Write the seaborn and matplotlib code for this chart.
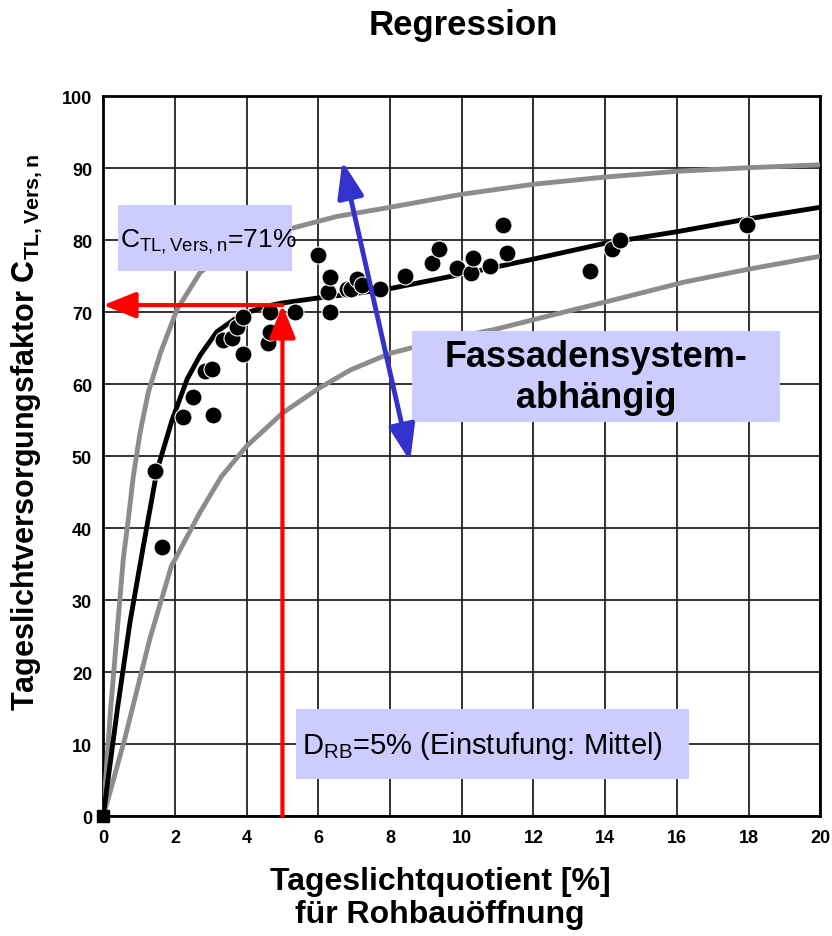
import numpy as np
import pandas as pd
import matplotlib
matplotlib.use("Agg")
import matplotlib.pyplot as plt
from matplotlib.patches import Rectangle
import seaborn as sns

# ---- data ----
x_pts = [1.45, 1.65, 2.23, 2.5, 2.85, 3.04, 3.07, 3.35, 3.6, 3.73, 3.9, 3.9,
         4.6, 4.66, 4.66, 5.36, 6.0, 6.28, 6.33, 6.33, 6.8, 6.9, 7.08, 7.22,
         7.73, 8.42, 9.18, 9.37, 9.87, 10.26, 10.32, 10.8, 11.16, 11.27,
         13.58, 14.2, 14.42, 17.96]
y_pts = [47.9, 37.4, 55.4, 58.3, 61.8, 62.1, 55.8, 66.2, 66.5, 68.0, 69.3, 64.2,
         65.8, 67.2, 70.1, 70.1, 77.9, 72.8, 74.9, 70.0, 73.2, 73.2, 74.6, 73.8,
         73.3, 75.1, 76.8, 78.8, 76.1, 75.5, 77.5, 76.5, 82.1, 78.3,
         75.8, 78.75, 80.0, 82.2]

# regression curve
x_fit = [0, 0.4, 0.75, 1.12, 1.5, 1.92, 2.34, 2.7, 3.17, 3.65, 4, 4.5,
         5, 6, 7, 8, 10, 12, 14, 16, 18, 20]
y_fit = [0, 15, 27, 37.5, 48, 55, 60.7, 64, 67.3, 69, 69.9, 70.8,
         71.3, 72, 72.6, 73.3, 75.3, 77.4, 79.6, 81.2, 83, 84.6]

# upper / lower envelope
x_up = [0, 0.2, 0.56, 0.7, 0.84, 1.03, 1.26, 1.6, 2.06, 2.7, 3.2, 4, 4.7, 5.5,
        6.5, 8, 10, 12, 14, 16, 18, 20]
y_up = [0, 14.4, 35.7, 41.2, 47.2, 53.3, 58.9, 64.4, 70.4, 75.5, 77.5, 79.6,
        80.9, 82, 83.3, 84.6, 86.4, 87.8, 88.8, 89.6, 90.1, 90.5]

x_lo = [0, 0.2, 0.6, 1.3, 1.9, 2.7, 3.3, 4, 5, 6, 6.9, 8, 9.5, 10.9, 12.5, 14.3,
        16.2, 18, 20]
y_lo = [0, 3.5, 10.7, 24.6, 34.7, 42.2, 47.2, 51.4, 56, 59.4, 62, 64.3, 66.2,
        67.6, 69.6, 71.8, 74.2, 76, 77.8]

d_rb = 5
c_tl = 71

df_pts = pd.DataFrame({"x": x_pts, "y": y_pts})

sns.set_style("white")
plt.rcParams['font.family'] = ['Liberation Sans', 'DejaVu Sans']
plt.rcParams['text.color'] = 'black'
plt.rcParams['axes.labelcolor'] = 'black'
plt.rcParams['xtick.color'] = 'black'
plt.rcParams['ytick.color'] = 'black'

fig = plt.figure(figsize=(8.32, 9.37), dpi=100)
ax = fig.add_axes([0.124, 0.128, 0.862, 0.768])

sns.lineplot(x=x_up, y=y_up, ax=ax, color="#8c8c8c", lw=3.5, zorder=3)
sns.lineplot(x=x_lo, y=y_lo, ax=ax, color="#8c8c8c", lw=3.5, zorder=3)
sns.lineplot(x=x_fit, y=y_fit, ax=ax, color="black", lw=3.5, zorder=4)
sns.scatterplot(data=df_pts, x="x", y="y", ax=ax, color="black", s=150,
                edgecolor="white", linewidth=0.8, zorder=5)
ax.plot([0], [0], marker="s", color="black", ms=8, clip_on=False, zorder=6)

# red arrows
red_style = "-|>,head_length=2.0,head_width=0.8"
ax.annotate("", xy=(d_rb, c_tl), xytext=(d_rb, 0),
            arrowprops=dict(arrowstyle=red_style, color="red", lw=3,
                            shrinkA=0, shrinkB=0), zorder=6)
ax.annotate("", xy=(0, c_tl), xytext=(d_rb, c_tl),
            arrowprops=dict(arrowstyle=red_style, color="red", lw=3,
                            shrinkA=0, shrinkB=0), zorder=6)

# boxes
lav = "#ccccff"
ax.add_patch(Rectangle((0.42, 75.7), 4.85, 9.2, fc=lav, ec="none", zorder=8))
ax.add_patch(Rectangle((5.38, 5.14), 10.97, 9.72, fc=lav, ec="none", zorder=8))
ax.add_patch(Rectangle((8.62, 54.72), 10.26, 12.64, fc=lav, ec="none", zorder=6))

ax.text(0.47, 80.0, r"C$_{\mathregular{TL,Vers,n}}$=71%", fontsize=19,
        va="center", ha="left", zorder=9)
ax.text(5.55, 9.9, r"D$_{\mathregular{RB}}$=5% (Einstufung: Mittel)", fontsize=21,
        va="center", ha="left", zorder=9)
ax.text(13.75, 61.0, "Fassadensystem-\nabhängig", fontsize=26, fontweight="bold",
        va="center", ha="center", linespacing=1.2, zorder=7)

# blue double arrow
ax.annotate("", xy=(6.67, 91), xytext=(8.56, 49.3),
            arrowprops=dict(arrowstyle="<|-|>,head_length=2.2,head_width=0.8",
                            color="#3333cc", lw=3.5, shrinkA=0, shrinkB=0), zorder=7)

ax.set_xlim(0, 20)
ax.set_ylim(0, 100)
ax.set_xticks(range(0, 21, 2))
ax.set_yticks(range(0, 101, 10))
ax.grid(True, color="#222222", lw=1.3)
ax.set_axisbelow(True)
for s in ax.spines.values():
    s.set_color("black")
    s.set_linewidth(2)
ax.tick_params(labelsize=13, length=0)
ax.tick_params(axis="x", pad=9)
ax.tick_params(axis="y", pad=8)
for lab in ax.get_xticklabels() + ax.get_yticklabels():
    lab.set_fontweight("bold")

ax.set_xlabel("Tageslichtquotient [%]\nfür Rohbauöffnung", fontsize=23,
              fontweight="bold", linespacing=1.12)
ax.xaxis.set_label_coords(0.47, -0.07, transform=ax.transAxes)
ax.xaxis.label.set_va("top")
ax.set_ylabel(r"Tageslichtversorgungsfaktor C$_{\mathregular{TL,Vers,n}}$",
              fontsize=22, fontweight="bold")
ax.yaxis.set_label_coords(-0.107, 0.535, transform=ax.transAxes)
ax.yaxis.label.set_va("center")

fig.text(0.557, 1 - 35 / 937, "Regression", fontsize=25, fontweight="bold",
         ha="center", va="baseline")

fig.savefig("out.png", dpi=100)
